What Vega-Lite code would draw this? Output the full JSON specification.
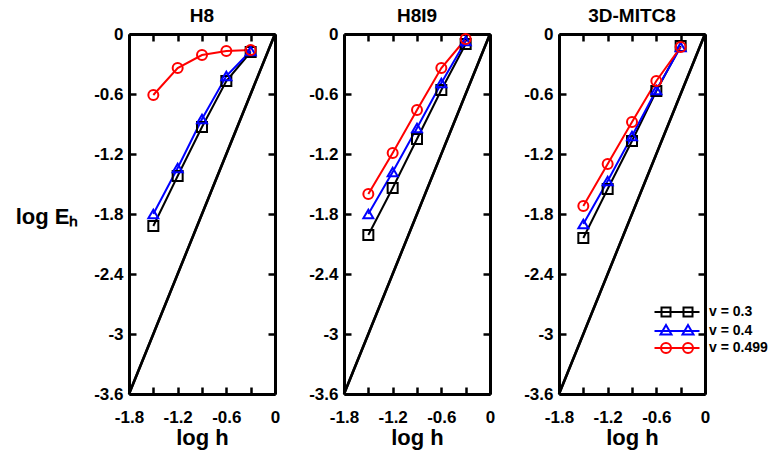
{
  "$schema": "https://vega.github.io/schema/vega-lite/v6.json",
  "padding": {"left": 15, "top": 7, "right": 2, "bottom": 2},
  "bounds": "flush",
  "spacing": 69,
  "datasets": {
    "ref": [{"x": -1.8, "y": -3.6}, {"x": 0, "y": 0}],
    "pts": [
      {"method": "H8", "nu": "v = 0.3", "x": -1.5, "y": -1.92},
      {"method": "H8", "nu": "v = 0.3", "x": -1.2, "y": -1.42},
      {"method": "H8", "nu": "v = 0.3", "x": -0.9, "y": -0.93},
      {"method": "H8", "nu": "v = 0.3", "x": -0.6, "y": -0.47},
      {"method": "H8", "nu": "v = 0.3", "x": -0.3, "y": -0.18},
      {"method": "H8", "nu": "v = 0.4", "x": -1.5, "y": -1.80},
      {"method": "H8", "nu": "v = 0.4", "x": -1.2, "y": -1.34},
      {"method": "H8", "nu": "v = 0.4", "x": -0.9, "y": -0.85},
      {"method": "H8", "nu": "v = 0.4", "x": -0.6, "y": -0.42},
      {"method": "H8", "nu": "v = 0.4", "x": -0.3, "y": -0.17},
      {"method": "H8", "nu": "v = 0.499", "x": -1.5, "y": -0.61},
      {"method": "H8", "nu": "v = 0.499", "x": -1.2, "y": -0.34},
      {"method": "H8", "nu": "v = 0.499", "x": -0.9, "y": -0.21},
      {"method": "H8", "nu": "v = 0.499", "x": -0.6, "y": -0.17},
      {"method": "H8", "nu": "v = 0.499", "x": -0.3, "y": -0.16},
      {"method": "H8I9", "nu": "v = 0.3", "x": -1.5, "y": -2.01},
      {"method": "H8I9", "nu": "v = 0.3", "x": -1.2, "y": -1.54},
      {"method": "H8I9", "nu": "v = 0.3", "x": -0.9, "y": -1.05},
      {"method": "H8I9", "nu": "v = 0.3", "x": -0.6, "y": -0.56},
      {"method": "H8I9", "nu": "v = 0.3", "x": -0.3, "y": -0.10},
      {"method": "H8I9", "nu": "v = 0.4", "x": -1.5, "y": -1.80},
      {"method": "H8I9", "nu": "v = 0.4", "x": -1.2, "y": -1.38},
      {"method": "H8I9", "nu": "v = 0.4", "x": -0.9, "y": -0.94},
      {"method": "H8I9", "nu": "v = 0.4", "x": -0.6, "y": -0.49},
      {"method": "H8I9", "nu": "v = 0.4", "x": -0.3, "y": -0.07},
      {"method": "H8I9", "nu": "v = 0.499", "x": -1.5, "y": -1.60},
      {"method": "H8I9", "nu": "v = 0.499", "x": -1.2, "y": -1.19},
      {"method": "H8I9", "nu": "v = 0.499", "x": -0.9, "y": -0.76},
      {"method": "H8I9", "nu": "v = 0.499", "x": -0.6, "y": -0.34},
      {"method": "H8I9", "nu": "v = 0.499", "x": -0.3, "y": -0.05},
      {"method": "3D-MITC8", "nu": "v = 0.3", "x": -1.5, "y": -2.04},
      {"method": "3D-MITC8", "nu": "v = 0.3", "x": -1.2, "y": -1.55},
      {"method": "3D-MITC8", "nu": "v = 0.3", "x": -0.9, "y": -1.07},
      {"method": "3D-MITC8", "nu": "v = 0.3", "x": -0.6, "y": -0.57},
      {"method": "3D-MITC8", "nu": "v = 0.3", "x": -0.3, "y": -0.12},
      {"method": "3D-MITC8", "nu": "v = 0.4", "x": -1.5, "y": -1.90},
      {"method": "3D-MITC8", "nu": "v = 0.4", "x": -1.2, "y": -1.47},
      {"method": "3D-MITC8", "nu": "v = 0.4", "x": -0.9, "y": -1.02},
      {"method": "3D-MITC8", "nu": "v = 0.4", "x": -0.6, "y": -0.56},
      {"method": "3D-MITC8", "nu": "v = 0.4", "x": -0.3, "y": -0.13},
      {"method": "3D-MITC8", "nu": "v = 0.499", "x": -1.5, "y": -1.72},
      {"method": "3D-MITC8", "nu": "v = 0.499", "x": -1.2, "y": -1.30},
      {"method": "3D-MITC8", "nu": "v = 0.499", "x": -0.9, "y": -0.88},
      {"method": "3D-MITC8", "nu": "v = 0.499", "x": -0.6, "y": -0.47},
      {"method": "3D-MITC8", "nu": "v = 0.499", "x": -0.3, "y": -0.13}
    ]
  },
  "hconcat": [
    {
      "title": {"text": "H8"},
      "width": 146,
      "height": 360,
      "layer": [
        {
          "data": {"name": "ref"},
          "mark": {"type": "line", "color": "black", "strokeWidth": 2.5},
          "encoding": {
            "x": {"field": "x", "type": "quantitative", "scale": {"domain": [-1.8, 0], "nice": false, "zero": false},
              "axis": {"orient": "bottom", "values": [-1.8, -1.5, -1.2, -0.9, -0.6, -0.3, 0], "labelExpr": "abs(round(datum.value * 10)) % 6 == 0 ? (datum.value < 0 ? '-' : '') + format(abs(datum.value), '~g') : ''", "title": "log h"}},
            "y": {"field": "y", "type": "quantitative", "scale": {"domain": [-3.6, 0], "nice": false, "zero": false},
              "axis": {"orient": "left", "values": [-3.6, -3, -2.4, -1.8, -1.2, -0.6, 0], "labelExpr": "(datum.value < 0 ? '-' : '') + format(abs(datum.value), '~g')", "title": "log Eₕ", "titleAngle": 0, "titleAlign": "right", "titleBaseline": "middle", "titleX": -51, "titleY": 182}}
          }
        },
        {
          "data": {"name": "pts"},
          "transform": [{"filter": "datum.method === 'H8'"}],
          "mark": {"type": "line", "strokeWidth": 2},
          "encoding": {
            "x": {"field": "x", "type": "quantitative", "axis": null},
            "y": {"field": "y", "type": "quantitative", "axis": null},
            "color": {"field": "nu", "type": "nominal", "scale": {"domain": ["v = 0.3", "v = 0.4", "v = 0.499"], "range": ["#000000", "#0000ff", "#ff0000"]}}
          }
        },
        {
          "data": {"name": "pts"},
          "transform": [{"filter": "datum.method === 'H8' && datum.nu === 'v = 0.3'"}],
          "mark": {"type": "point", "shape": "square", "size": 100, "strokeWidth": 2, "filled": false, "opacity": 1, "color": "#000000"},
          "encoding": {
            "x": {"field": "x", "type": "quantitative", "axis": null},
            "y": {"field": "y", "type": "quantitative", "axis": null}
          }
        },
        {
          "data": {"name": "pts"},
          "transform": [{"filter": "datum.method === 'H8' && datum.nu === 'v = 0.4'"}],
          "mark": {"type": "point", "shape": "triangle-up", "size": 100, "strokeWidth": 2, "filled": false, "opacity": 1, "color": "#0000ff"},
          "encoding": {
            "x": {"field": "x", "type": "quantitative", "axis": null},
            "y": {"field": "y", "type": "quantitative", "axis": null}
          }
        },
        {
          "data": {"name": "pts"},
          "transform": [{"filter": "datum.method === 'H8' && datum.nu === 'v = 0.499'"}],
          "mark": {"type": "point", "shape": "circle", "size": 100, "strokeWidth": 2, "filled": false, "opacity": 1, "color": "#ff0000"},
          "encoding": {
            "x": {"field": "x", "type": "quantitative", "axis": null},
            "y": {"field": "y", "type": "quantitative", "axis": null}
          }
        },
        {
          "data": {"name": "ref"},
          "mark": {"type": "line", "color": "black", "strokeWidth": 2.5},
          "encoding": {
            "x": {"field": "x", "type": "quantitative", "axis": {"orient": "top", "values": [-1.8, -1.5, -1.2, -0.9, -0.6, -0.3, 0], "labels": false, "title": null}},
            "y": {"field": "y", "type": "quantitative", "axis": {"orient": "right", "values": [-3.6, -3, -2.4, -1.8, -1.2, -0.6, 0], "labels": false, "title": null}}
          }
        }
      ],
      "resolve": {"axis": {"x": "independent", "y": "independent"}}
    },
    {
      "title": {"text": "H8I9"},
      "width": 146,
      "height": 360,
      "layer": [
        {
          "data": {"name": "ref"},
          "mark": {"type": "line", "color": "black", "strokeWidth": 2.5},
          "encoding": {
            "x": {"field": "x", "type": "quantitative", "scale": {"domain": [-1.8, 0], "nice": false, "zero": false},
              "axis": {"orient": "bottom", "values": [-1.8, -1.5, -1.2, -0.9, -0.6, -0.3, 0], "labelExpr": "abs(round(datum.value * 10)) % 6 == 0 ? (datum.value < 0 ? '-' : '') + format(abs(datum.value), '~g') : ''", "title": "log h"}},
            "y": {"field": "y", "type": "quantitative", "scale": {"domain": [-3.6, 0], "nice": false, "zero": false},
              "axis": {"orient": "left", "values": [-3.6, -3, -2.4, -1.8, -1.2, -0.6, 0], "labelExpr": "(datum.value < 0 ? '-' : '') + format(abs(datum.value), '~g')", "title": null}}
          }
        },
        {
          "data": {"name": "pts"},
          "transform": [{"filter": "datum.method === 'H8I9'"}],
          "mark": {"type": "line", "strokeWidth": 2},
          "encoding": {
            "x": {"field": "x", "type": "quantitative", "axis": null},
            "y": {"field": "y", "type": "quantitative", "axis": null},
            "color": {"field": "nu", "type": "nominal"}
          }
        },
        {
          "data": {"name": "pts"},
          "transform": [{"filter": "datum.method === 'H8I9' && datum.nu === 'v = 0.3'"}],
          "mark": {"type": "point", "shape": "square", "size": 100, "strokeWidth": 2, "filled": false, "opacity": 1, "color": "#000000"},
          "encoding": {
            "x": {"field": "x", "type": "quantitative", "axis": null},
            "y": {"field": "y", "type": "quantitative", "axis": null}
          }
        },
        {
          "data": {"name": "pts"},
          "transform": [{"filter": "datum.method === 'H8I9' && datum.nu === 'v = 0.4'"}],
          "mark": {"type": "point", "shape": "triangle-up", "size": 100, "strokeWidth": 2, "filled": false, "opacity": 1, "color": "#0000ff"},
          "encoding": {
            "x": {"field": "x", "type": "quantitative", "axis": null},
            "y": {"field": "y", "type": "quantitative", "axis": null}
          }
        },
        {
          "data": {"name": "pts"},
          "transform": [{"filter": "datum.method === 'H8I9' && datum.nu === 'v = 0.499'"}],
          "mark": {"type": "point", "shape": "circle", "size": 100, "strokeWidth": 2, "filled": false, "opacity": 1, "color": "#ff0000"},
          "encoding": {
            "x": {"field": "x", "type": "quantitative", "axis": null},
            "y": {"field": "y", "type": "quantitative", "axis": null}
          }
        },
        {
          "data": {"name": "ref"},
          "mark": {"type": "line", "color": "black", "strokeWidth": 2.5},
          "encoding": {
            "x": {"field": "x", "type": "quantitative", "axis": {"orient": "top", "values": [-1.8, -1.5, -1.2, -0.9, -0.6, -0.3, 0], "labels": false, "title": null}},
            "y": {"field": "y", "type": "quantitative", "axis": {"orient": "right", "values": [-3.6, -3, -2.4, -1.8, -1.2, -0.6, 0], "labels": false, "title": null}}
          }
        }
      ],
      "resolve": {"axis": {"x": "independent", "y": "independent"}}
    },
    {
      "title": {"text": "3D-MITC8"},
      "width": 146,
      "height": 360,
      "layer": [
        {
          "data": {"name": "ref"},
          "mark": {"type": "line", "color": "black", "strokeWidth": 2.5},
          "encoding": {
            "x": {"field": "x", "type": "quantitative", "scale": {"domain": [-1.8, 0], "nice": false, "zero": false},
              "axis": {"orient": "bottom", "values": [-1.8, -1.5, -1.2, -0.9, -0.6, -0.3, 0], "labelExpr": "abs(round(datum.value * 10)) % 6 == 0 ? (datum.value < 0 ? '-' : '') + format(abs(datum.value), '~g') : ''", "title": "log h"}},
            "y": {"field": "y", "type": "quantitative", "scale": {"domain": [-3.6, 0], "nice": false, "zero": false},
              "axis": {"orient": "left", "values": [-3.6, -3, -2.4, -1.8, -1.2, -0.6, 0], "labelExpr": "(datum.value < 0 ? '-' : '') + format(abs(datum.value), '~g')", "title": null}}
          }
        },
        {
          "data": {"name": "pts"},
          "transform": [{"filter": "datum.method === '3D-MITC8'"}],
          "mark": {"type": "line", "strokeWidth": 2},
          "encoding": {
            "x": {"field": "x", "type": "quantitative", "axis": null},
            "y": {"field": "y", "type": "quantitative", "axis": null},
            "color": {"field": "nu", "type": "nominal"}
          }
        },
        {
          "data": {"name": "pts"},
          "transform": [{"filter": "datum.method === '3D-MITC8' && datum.nu === 'v = 0.3'"}],
          "mark": {"type": "point", "shape": "square", "size": 100, "strokeWidth": 2, "filled": false, "opacity": 1, "color": "#000000"},
          "encoding": {
            "x": {"field": "x", "type": "quantitative", "axis": null},
            "y": {"field": "y", "type": "quantitative", "axis": null}
          }
        },
        {
          "data": {"name": "pts"},
          "transform": [{"filter": "datum.method === '3D-MITC8' && datum.nu === 'v = 0.4'"}],
          "mark": {"type": "point", "shape": "triangle-up", "size": 100, "strokeWidth": 2, "filled": false, "opacity": 1, "color": "#0000ff"},
          "encoding": {
            "x": {"field": "x", "type": "quantitative", "axis": null},
            "y": {"field": "y", "type": "quantitative", "axis": null}
          }
        },
        {
          "data": {"name": "pts"},
          "transform": [{"filter": "datum.method === '3D-MITC8' && datum.nu === 'v = 0.499'"}],
          "mark": {"type": "point", "shape": "circle", "size": 100, "strokeWidth": 2, "filled": false, "opacity": 1, "color": "#ff0000"},
          "encoding": {
            "x": {"field": "x", "type": "quantitative", "axis": null},
            "y": {"field": "y", "type": "quantitative", "axis": null}
          }
        },
        {
          "data": {"name": "pts"},
          "transform": [{"filter": "false"}],
          "mark": {"type": "point", "filled": false, "strokeWidth": 2},
          "encoding": {
            "color": {"field": "nu", "type": "nominal",
              "legend": {"title": null, "orient": "none", "legendX": 541, "legendY": 271, "padding": 0, "symbolSize": 100, "symbolStrokeWidth": 2, "symbolOpacity": 1, "labelOffset": 25, "rowPadding": 0}},
            "shape": {"field": "nu", "type": "nominal",
              "scale": {"domain": ["v = 0.3", "v = 0.4", "v = 0.499"], "range": ["M-4.5,0H4.5M-3.1,-0.9H-1.3V0.9H-3.1ZM1.3,-0.9H3.1V0.9H1.3Z", "M-4.5,0H4.5M-2.2,-1.2L-1.1,0.7H-3.3ZM2.2,-1.2L3.3,0.7H1.1Z", "M-4.5,0H4.5M-1.2,0A1,1 0 1,0 -3.2,0A1,1 0 1,0 -1.2,0ZM3.2,0A1,1 0 1,0 1.2,0A1,1 0 1,0 3.2,0Z"]},
              "legend": {"title": null, "orient": "none", "legendX": 541, "legendY": 271, "padding": 0, "symbolSize": 100, "symbolStrokeWidth": 2, "symbolOpacity": 1, "labelOffset": 25, "rowPadding": 0}}
          }
        },
        {
          "data": {"name": "ref"},
          "mark": {"type": "line", "color": "black", "strokeWidth": 2.5},
          "encoding": {
            "x": {"field": "x", "type": "quantitative", "axis": {"orient": "top", "values": [-1.8, -1.5, -1.2, -0.9, -0.6, -0.3, 0], "labels": false, "title": null}},
            "y": {"field": "y", "type": "quantitative", "axis": {"orient": "right", "values": [-3.6, -3, -2.4, -1.8, -1.2, -0.6, 0], "labels": false, "title": null}}
          }
        }
      ],
      "resolve": {"axis": {"x": "independent", "y": "independent"}}
    }
  ],
  "config": {
    "view": {"stroke": null},
    "font": "Liberation Sans",
    "title": {"font": "Liberation Sans", "fontSize": 19, "fontWeight": "bold", "color": "black", "anchor": "middle", "baseline": "alphabetic", "offset": -1},
    "axis": {
      "grid": false,
      "domain": true,
      "domainColor": "#000000",
      "domainWidth": 3,
      "ticks": true,
      "tickColor": "#000000",
      "tickWidth": 2.5,
      "tickSize": -7,
      "labelFont": "Liberation Sans",
      "labelFontSize": 17,
      "labelFontWeight": "bold",
      "labelColor": "black",
      "labelFlush": false,
      "labelOverlap": false,
      "titleFont": "Liberation Sans",
      "titleFontSize": 22,
      "titleFontWeight": "bold",
      "titleColor": "black"
    },
    "axisBottom": {"labelPadding": 22, "titlePadding": 2},
    "axisLeft": {"labelPadding": 13},
    "legend": {"labelFont": "Liberation Sans", "labelFontSize": 14, "labelFontWeight": "bold", "labelColor": "black"}
  }
}
